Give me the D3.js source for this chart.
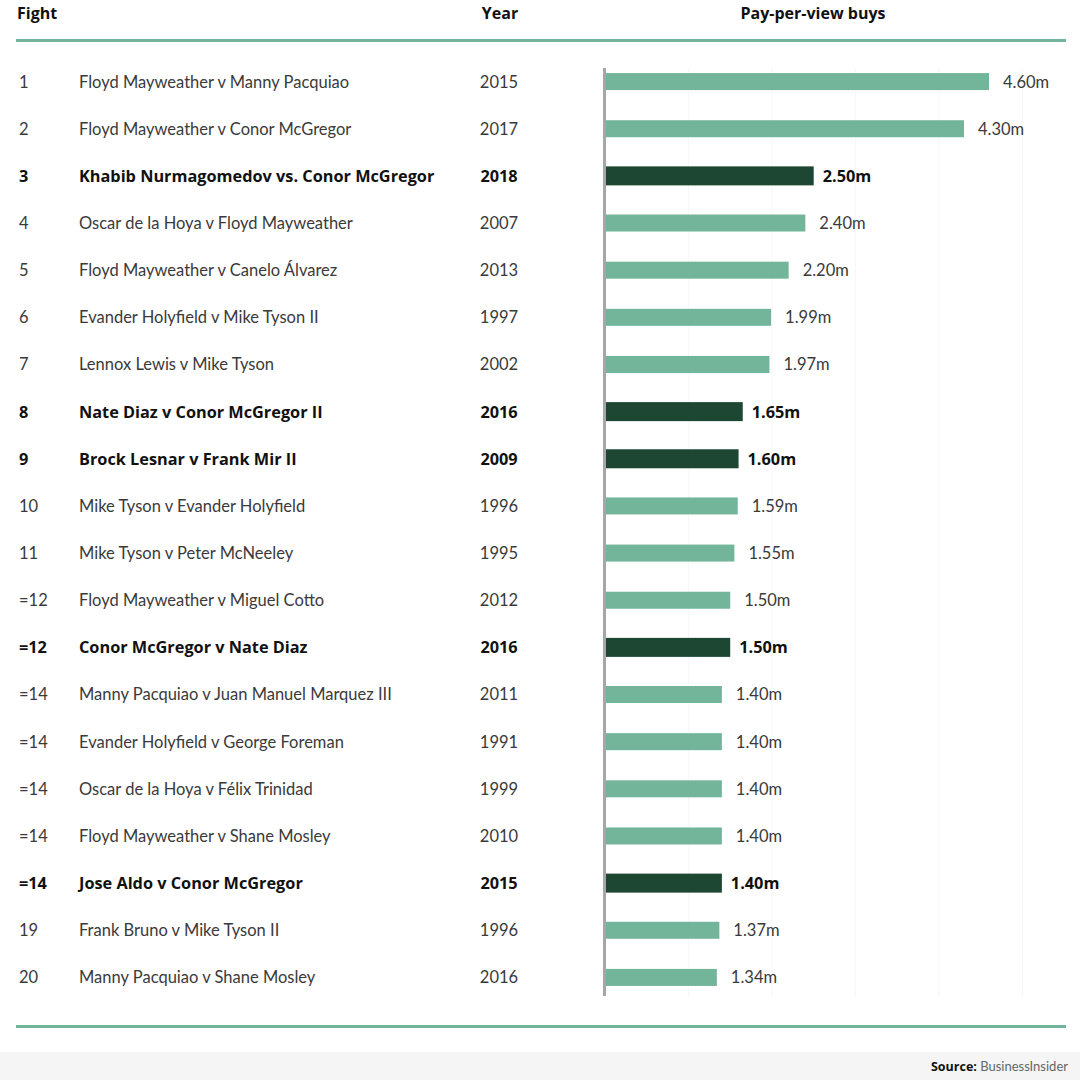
<!DOCTYPE html>
<html><head><meta charset="utf-8">
<script src="https://cdn.jsdelivr.net/npm/d3@7"></script>
<style>
html,body{margin:0;padding:0;background:#fff;}
svg{display:block;font-family:Lato,"Open Sans",sans-serif;}
</style></head>
<body>
<svg id="c" width="1080" height="1080"></svg>
<script>
const ranks = ["1","2","3","4","5","6","7","8","9","10","11","=12","=12","=14","=14","=14","=14","=14","19","20"];
const fights = ["Floyd Mayweather v Manny Pacquiao","Floyd Mayweather v Conor McGregor","Khabib Nurmagomedov vs. Conor McGregor","Oscar de la Hoya v Floyd Mayweather","Floyd Mayweather v Canelo Álvarez","Evander Holyfield v Mike Tyson II","Lennox Lewis v Mike Tyson","Nate Diaz v Conor McGregor II","Brock Lesnar v Frank Mir II","Mike Tyson v Evander Holyfield","Mike Tyson v Peter McNeeley","Floyd Mayweather v Miguel Cotto","Conor McGregor v Nate Diaz","Manny Pacquiao v Juan Manuel Marquez III","Evander Holyfield v George Foreman","Oscar de la Hoya v Félix Trinidad","Floyd Mayweather v Shane Mosley","Jose Aldo v Conor McGregor","Frank Bruno v Mike Tyson II","Manny Pacquiao v Shane Mosley"];
const years = ["2015","2017","2018","2007","2013","1997","2002","2016","2009","1996","1995","2012","2016","2011","1991","1999","2010","2015","1996","2016"];
const buys = [4.60,4.30,2.50,2.40,2.20,1.99,1.97,1.65,1.60,1.59,1.55,1.50,1.50,1.40,1.40,1.40,1.40,1.40,1.37,1.34];
const highlight = [false,false,true,false,false,false,false,true,true,false,false,false,true,false,false,false,false,true,false,false];
const gridTicks = [1,2,3,4,5];
const headers = ["Fight","Year","Pay-per-view buys"];
const source = "BusinessInsider";

const svg = d3.select("#c");
const light = "#72b59a", dark = "#1d4633", lineCol = "#72b59a";
const boldFont = "'Open Sans',Lato,sans-serif";
const regFont = "Lato,'Open Sans',sans-serif";
const data = buys.map((v,i)=>({rank:ranks[i],fight:fights[i],year:years[i],v,hl:highlight[i]}));

const x = d3.scaleLinear().domain([0,4.6]).range([605,989]);
const y = d3.scaleBand().domain(d3.range(data.length)).range([58,1001]).padding(0);

// grid lines (very faint)
svg.append("g").selectAll("line").data(gridTicks).join("line")
  .attr("x1",d=>x(d)).attr("x2",d=>x(d)).attr("y1",68).attr("y2",997)
  .attr("stroke","#f7f7f7").attr("stroke-width",1);

// header
const hdr = [[17,"start"],[500,"middle"],[813,"middle"]];
svg.append("g").selectAll("text").data(headers).join("text")
  .attr("x",(d,i)=>hdr[i][0]).attr("y",19).attr("text-anchor",(d,i)=>hdr[i][1])
  .text(d=>d).attr("font-family",boldFont).attr("font-size",16).attr("font-weight",700).attr("fill","#111");
svg.append("rect").attr("x",16).attr("y",39).attr("width",1050).attr("height",3).attr("fill",lineCol);
svg.append("rect").attr("x",16).attr("y",1025).attr("width",1050).attr("height",3).attr("fill",lineCol);

// footer
svg.append("rect").attr("x",0).attr("y",1052).attr("width",1080).attr("height",28).attr("fill","#f5f5f5");
const ft = svg.append("text").attr("x",1068).attr("y",1071).attr("text-anchor","end").attr("font-size",13);
ft.append("tspan").text("Source: ").attr("font-family",boldFont).attr("font-size",12.5).attr("font-weight",700).attr("fill","#111");
ft.append("tspan").text(source).attr("font-family",regFont).attr("fill","#666");

const rows = svg.append("g").selectAll("g").data(data).join("g")
  .attr("transform",(d,i)=>`translate(0,${y(i)+y.bandwidth()/2})`);

rows.append("text").attr("x",19).attr("dy","0.36em").text(d=>d.rank);
rows.append("text").attr("x",79).attr("dy","0.36em").text(d=>d.fight);
rows.append("text").attr("x",499).attr("text-anchor","middle").attr("dy","0.36em").text(d=>d.year);
rows.selectAll("text")
  .attr("font-family",d=>d.hl?boldFont:regFont)
  .attr("font-size",d=>d.hl?16.3:16.5)
  .attr("font-weight",d=>d.hl?700:400)
  .attr("fill",d=>d.hl?"#111":"#3a3a3a");

rows.append("rect").attr("x",x(0)).attr("y",d=>d.hl?-9.5:-8.5)
  .attr("width",d=>x(d.v)-x(0)).attr("height",d=>d.hl?19:17)
  .attr("fill",d=>d.hl?dark:light);
rows.append("text").attr("x",d=>x(d.v)+(d.hl?9:14)).attr("dy","0.36em")
  .text(d=>d.v.toFixed(2)+"m")
  .attr("font-family",d=>d.hl?boldFont:regFont)
  .attr("font-size",d=>d.hl?16.3:16.5).attr("font-weight",d=>d.hl?700:400).attr("fill",d=>d.hl?"#111":"#3a3a3a");

// axis line
svg.append("rect").attr("x",603).attr("y",68).attr("width",3).attr("height",928).attr("fill","#a6a6a6");
</script>
</body></html>
